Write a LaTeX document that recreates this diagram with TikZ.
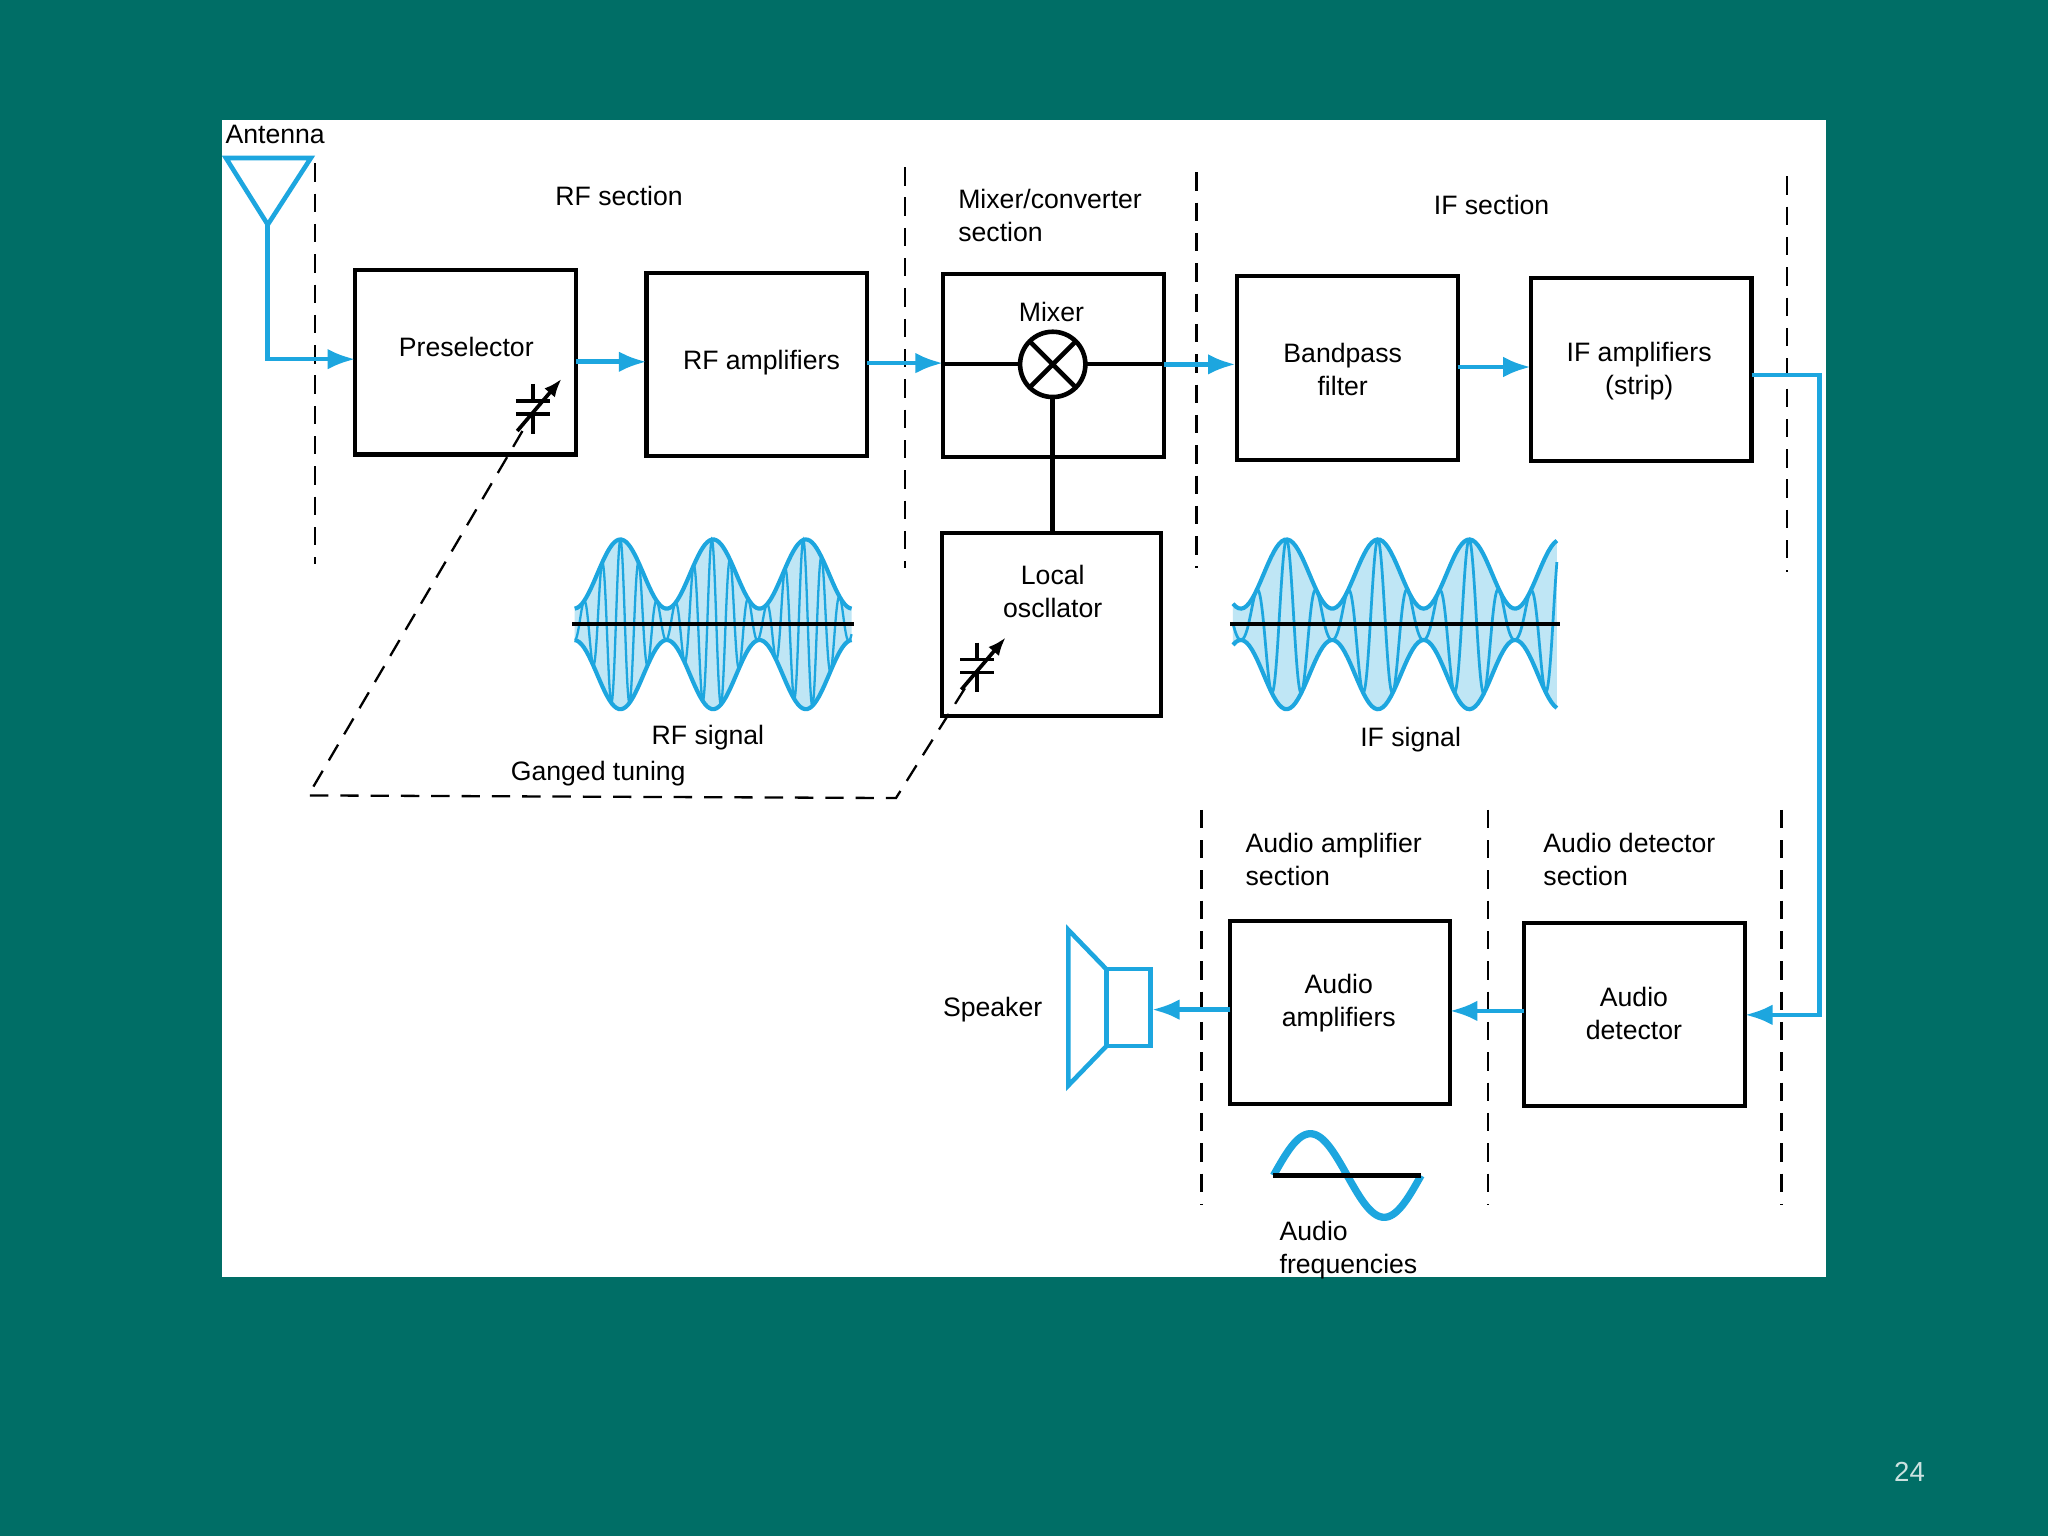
\documentclass[tikz,border=0pt]{standalone}
\usepackage{fontspec}
\setmainfont{Liberation Sans}
\usetikzlibrary{arrows.meta}
\begin{document}
\begin{tikzpicture}[x=0.01cm,y=-0.01cm,
  bl/.style={draw=sig,line width=1pt},
  arr/.style={bl,-{Latex[length=6pt,width=4.5pt]}},
  dsh/.style={draw=black,line width=0.5pt,dash pattern=on 4pt off 2.6pt},
  lab/.style={font=\fontsize{5.8}{7.2}\selectfont,align=center},
  labl/.style={font=\fontsize{5.8}{7.2}\selectfont,align=left,anchor=west,inner sep=0pt}]
\definecolor{bg}{HTML}{006E66}
\definecolor{sig}{HTML}{1DA6DF}
\definecolor{sigf}{HTML}{BFE6F5}
\fill[bg] (0,0) rectangle (1568,1176);
\useasboundingbox (0,0) rectangle (1568,1176);
\fill[white] (170,92) rectangle (1398,978);
\node[text=white!80!bg,font=\fontsize{6}{7}\selectfont] (pg) at (1462,1127) {24};

% dashed section lines
\foreach \x/\a/\b in {241/125/432,693/128/435,916/132/435,1368/135/438,920/620/922,1139/620/922,1364/620/922}
  \draw[dsh] (\x,\a) -- (\x,\b);

% labels
\node[labl] (ant) at (172,103) {Antenna};
\node[lab] (rfs) at (474,150) {RF section};
\node[labl] (mxs) at (733,165) {Mixer/converter\\section};
\node[lab] (ifs) at (1142,157) {IF section};
\node[labl] (aas) at (953,658) {Audio amplifier\\section};
\node[labl] (ads) at (1181,658) {Audio detector\\section};

% boxes
\draw[line width=0.9pt] (272,207) rectangle (441,348);
\node[lab] (pre) at (357,266) {Preselector};
\draw[line width=0.9pt] (495,209) rectangle (664,349);
\node[lab] (rfa) at (583,278) {RF amplifiers};
\draw[line width=0.9pt] (722,210) rectangle (891,350);
\node[lab] (mix) at (805,239) {Mixer};
\draw[line width=0.9pt] (947,211) rectangle (1116,352);
\node[lab] (bpf) at (1028,283) {Bandpass\\filter};
\draw[line width=0.9pt] (1172,213) rectangle (1341,353);
\node[lab] (ifa) at (1255,284) {IF amplifiers\\(strip)};
\draw[line width=0.9pt] (721,408) rectangle (889,548);
\node[lab] (lo) at (806,453) {Local\\oscllator};
\draw[line width=0.9pt] (942,705) rectangle (1110,845);
\node[lab] (aa) at (1025,768) {Audio\\amplifiers};
\draw[line width=0.9pt] (1167,707) rectangle (1336,847);
\node[lab] (ad) at (1251,776) {Audio\\detector};

% mixer symbol
\draw[line width=0.9pt] (722,279) -- (781,279) (831,279) -- (891,279);
\draw[line width=1pt] (806,279) circle (25);
\draw[line width=1pt] (788,261) -- (824,297) (788,297) -- (824,261);
\draw[line width=1pt] (806,304) -- (806,408);

% antenna
\draw[bl] (173,121) -- (238,121) -- (205,172) -- cycle;
\draw[arr] (205,172) -- (205,275) -- (272,275);
% signal arrows
\draw[arr] (441,277) -- (495,277);
\draw[arr] (664,278) -- (722,278);
\draw[arr] (891,279) -- (946,279);
\draw[arr] (1116,281) -- (1172,281);
\draw[arr] (1341,287) -- (1393,287) -- (1393,777) -- (1336,777);
\draw[arr] (1167,774) -- (1110,774);
\draw[arr] (942,773) -- (882,773);

% speaker
\draw[bl] (847,742) rectangle (881,801);
\draw[bl] (847,742) -- (818,712) -- (818,831) -- (847,801);
\node[lab] (spk) at (760,773) {Speaker};

% capacitors
\foreach \cx/\cy in {408/312,748/510}{
  \draw[line width=0.8pt] (\cx-13,\cy-5) -- (\cx+13,\cy-5) (\cx-13,\cy+5) -- (\cx+13,\cy+5)
     (\cx,\cy-18) -- (\cx,\cy-5) (\cx,\cy+5) -- (\cx,\cy+20);
  \draw[line width=0.8pt,-{Latex[length=4pt,width=3pt]}] (\cx-12,\cy+18) -- (\cx+22,\cy-22);
}
% ganged tuning
\draw[dsh] (400,330) -- (236,609) -- (686,611) -- (740,525);
\node[lab] (gt) at (458,592) {Ganged tuning};

% RF signal
\fill[sigf] plot[domain=440:652,samples=120] (\x,{478-(12+53*(0.5+0.5*cos((\x-475)*5.0704)))}) --
  plot[domain=652:440,samples=120] (\x,{478+(12+53*(0.5+0.5*cos((\x-475)*5.0704)))}) -- cycle;
\draw[sig,line width=0.9pt] plot[domain=440:652,samples=120] (\x,{478-(12+53*(0.5+0.5*cos((\x-475)*5.0704)))});
\draw[sig,line width=0.9pt] plot[domain=440:652,samples=120] (\x,{478+(12+53*(0.5+0.5*cos((\x-475)*5.0704)))});
\draw[sig,line width=0.5pt] plot[domain=440:652,samples=500] (\x,{478-(12+53*(0.5+0.5*cos((\x-475)*5.0704)))*cos((\x-475)*25.714)});
\draw[line width=0.9pt] (438,478) -- (654,478);
\node[lab] (rfsig) at (542,565) {RF signal};

% IF signal
\fill[sigf] plot[domain=944:1192,samples=120] (\x,{478-(12+53*(0.5+0.5*cos((\x-985)*5.1429)))}) --
  plot[domain=1192:944,samples=120] (\x,{478+(12+53*(0.5+0.5*cos((\x-985)*5.1429)))}) -- cycle;
\draw[sig,line width=0.9pt] plot[domain=944:1192,samples=120] (\x,{478-(12+53*(0.5+0.5*cos((\x-985)*5.1429)))});
\draw[sig,line width=0.9pt] plot[domain=944:1192,samples=120] (\x,{478+(12+53*(0.5+0.5*cos((\x-985)*5.1429)))});
\draw[sig,line width=0.6pt] plot[domain=944:1192,samples=500] (\x,{478-(12+53*(0.5+0.5*cos((\x-985)*5.1429)))*cos((\x-985)*15.45)});
\draw[line width=0.9pt] (942,478) -- (1194,478);
\node[lab] (ifsig) at (1080,566) {IF signal};

% audio
\draw[sig,line width=1.6pt] plot[domain=975:1088,samples=80] (\x,{900-32*sin((\x-975)*3.1858)});
\draw[line width=0.9pt] (975,900) -- (1088,900);
\node[labl] (af) at (979,957) {Audio\\frequencies};
\end{tikzpicture}
\end{document}
